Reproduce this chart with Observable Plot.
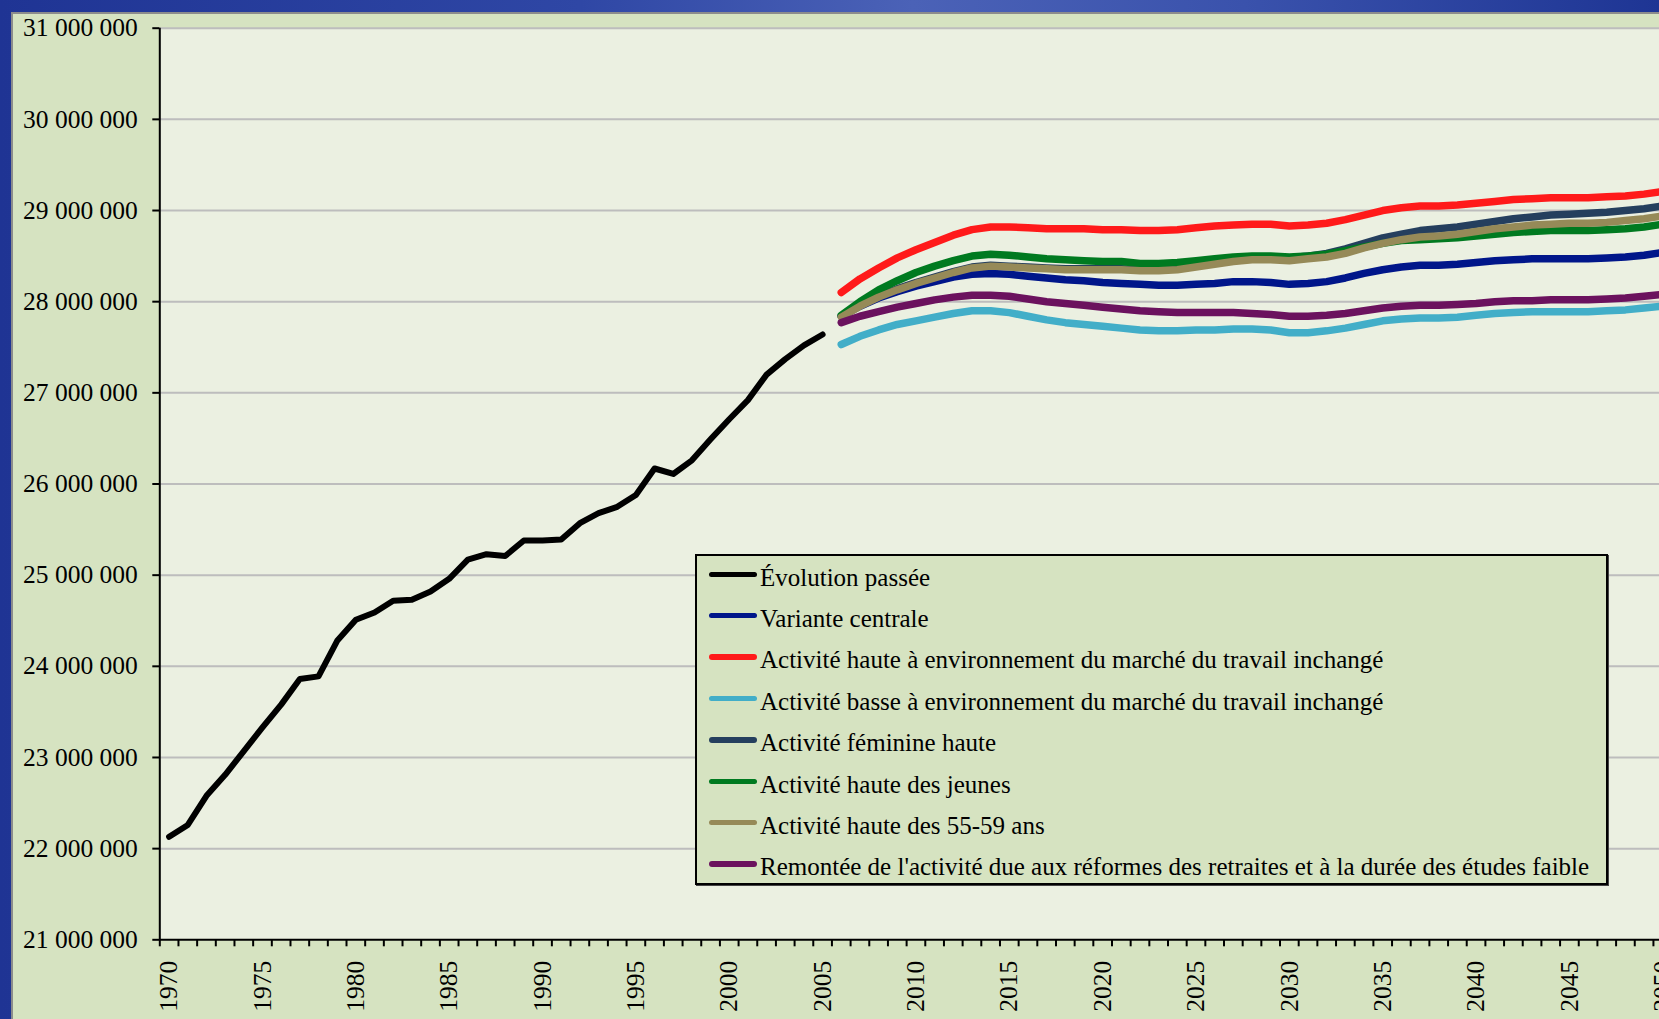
<!DOCTYPE html>
<html>
<head>
<meta charset="utf-8">
<script src="https://cdn.jsdelivr.net/npm/d3@7"></script>
<script src="https://cdn.jsdelivr.net/npm/@observablehq/plot@0.6"></script>
<style>
  html, body { margin: 0; padding: 0; }
  body {
    width: 1659px; height: 1019px; overflow: hidden; position: relative;
    background: linear-gradient(90deg, #1f3494 0%, #2f47a5 35%, #4b62b7 55%, #3a52ac 75%, #1e3594 100%);
    font-family: "Liberation Serif", "Times New Roman", serif;
  }
  #frame {
    position: absolute; left: 11px; top: 12px; width: 1700px; height: 1100px;
    background: #d6e3c1; border-left: 2px solid #8c8c8c; border-top: 2px solid #8c8c8c;
  }
  #chart { position: absolute; left: 0; top: 0; }
  #legend {
    position: absolute; left: 695px; top: 554px; width: 913px; height: 331px;
    box-sizing: border-box; border: 2px solid #000; background: #d6e3c1;
    box-shadow: 1px 1px 0 #444;
  }
  .sw { position: absolute; left: 12px; width: 48px; height: 5.5px; border-radius: 3px; }
  .lt { position: absolute; left: 63px; font-size: 25px; line-height: 25px; white-space: nowrap; color: #000; }
</style>
</head>
<body>
<div id="frame"></div>
<div id="chart"></div>
<div id="legend"></div>
<script>
// ---- Data (millions of active persons) ----
const histYears = d3.range(1970, 2006);
const histValues = [22.13, 22.26, 22.58, 22.81, 23.07, 23.33, 23.58, 23.86, 23.89, 24.28,
  24.51, 24.59, 24.72, 24.73, 24.82, 24.96, 25.17, 25.23, 25.21, 25.38,
  25.38, 25.39, 25.57, 25.68, 25.75, 25.88, 26.17, 26.11, 26.26, 26.49,
  26.71, 26.92, 27.20, 27.37, 27.52, 27.64];

const projYears = d3.range(2006, 2051);
const centrale = [27.84, 27.95, 28.04, 28.11, 28.17, 28.22, 28.27, 28.30, 28.31, 28.30,
  28.28, 28.26, 28.24, 28.23, 28.21, 28.20, 28.19, 28.18, 28.18, 28.19,
  28.20, 28.22, 28.22, 28.21, 28.19, 28.20, 28.22, 28.26, 28.31, 28.35,
  28.38, 28.40, 28.40, 28.41, 28.43, 28.45, 28.46, 28.47, 28.47, 28.47,
  28.47, 28.48, 28.49, 28.51, 28.54];
const hauteInchange = [28.10, 28.25, 28.37, 28.48, 28.57, 28.65, 28.73, 28.79, 28.82, 28.82,
  28.81, 28.80, 28.80, 28.80, 28.79, 28.79, 28.78, 28.78, 28.79, 28.81,
  28.83, 28.84, 28.85, 28.85, 28.83, 28.84, 28.86, 28.90, 28.95, 29.00,
  29.03, 29.05, 29.05, 29.06, 29.08, 29.10, 29.12, 29.13, 29.14, 29.14,
  29.14, 29.15, 29.16, 29.18, 29.21];
const basseInchange = [27.53, 27.62, 27.69, 27.75, 27.79, 27.83, 27.87, 27.90, 27.90, 27.88,
  27.84, 27.80, 27.77, 27.75, 27.73, 27.71, 27.69, 27.68, 27.68, 27.69,
  27.69, 27.70, 27.70, 27.69, 27.66, 27.66, 27.68, 27.71, 27.75, 27.79,
  27.81, 27.82, 27.82, 27.83, 27.85, 27.87, 27.88, 27.89, 27.89, 27.89,
  27.89, 27.90, 27.91, 27.93, 27.95];
const feminineHaute = [27.84, 27.96, 28.06, 28.14, 28.21, 28.27, 28.33, 28.38, 28.40, 28.39,
  28.38, 28.37, 28.36, 28.36, 28.36, 28.36, 28.35, 28.35, 28.36, 28.39,
  28.42, 28.45, 28.47, 28.48, 28.48, 28.50, 28.53, 28.58, 28.64, 28.70,
  28.74, 28.78, 28.80, 28.82, 28.85, 28.88, 28.91, 28.93, 28.95, 28.96,
  28.97, 28.98, 29.00, 29.02, 29.05];
const jeunes = [27.85, 28.00, 28.13, 28.23, 28.32, 28.39, 28.45, 28.50, 28.52, 28.51,
  28.49, 28.47, 28.46, 28.45, 28.44, 28.44, 28.42, 28.42, 28.43, 28.45,
  28.47, 28.49, 28.50, 28.50, 28.49, 28.50, 28.52, 28.56, 28.60, 28.64,
  28.67, 28.68, 28.69, 28.70, 28.72, 28.74, 28.76, 28.77, 28.78, 28.78,
  28.78, 28.79, 28.80, 28.82, 28.85];
const seniors5559 = [27.83, 27.95, 28.05, 28.13, 28.20, 28.26, 28.32, 28.37, 28.39, 28.38,
  28.37, 28.36, 28.35, 28.35, 28.35, 28.35, 28.34, 28.34, 28.35, 28.38,
  28.41, 28.44, 28.46, 28.46, 28.45, 28.47, 28.49, 28.53, 28.59, 28.64,
  28.68, 28.71, 28.72, 28.74, 28.77, 28.80, 28.82, 28.84, 28.85, 28.86,
  28.86, 28.87, 28.89, 28.91, 28.94];
const remontee = [27.77, 27.84, 27.89, 27.94, 27.98, 28.02, 28.05, 28.07, 28.07, 28.06,
  28.03, 28.00, 27.98, 27.96, 27.94, 27.92, 27.90, 27.89, 27.88, 27.88,
  27.88, 27.88, 27.87, 27.86, 27.84, 27.84, 27.85, 27.87, 27.90, 27.93,
  27.95, 27.96, 27.96, 27.97, 27.98, 28.00, 28.01, 28.01, 28.02, 28.02,
  28.02, 28.03, 28.04, 28.06, 28.08];

const seriesNames = [
  "Évolution passée",
  "Variante centrale",
  "Activité haute à environnement du marché du travail inchangé",
  "Activité basse à environnement du marché du travail inchangé",
  "Activité féminine haute",
  "Activité haute des jeunes",
  "Activité haute des 55-59 ans",
  "Remontée de l'activité due aux réformes des retraites et à la durée des études faible"
];
const seriesColors = ["#000000", "#00168a", "#ff1a1a", "#42aec8", "#253f5e", "#007a20", "#968a58", "#6b125e"];
const seriesValues = [histValues, centrale, hauteInchange, basseInchange, feminineHaute, jeunes, seniors5559, remontee];

const yTicks = [21e6, 22e6, 23e6, 24e6, 25e6, 26e6, 27e6, 28e6, 29e6, 30e6, 31e6];
const xLabelYears = [1970, 1975, 1980, 1985, 1990, 1995, 2000, 2005, 2010, 2015, 2020, 2025, 2030, 2035, 2040, 2045, 2050];
const allYears = d3.range(1970, 2051);

// ---- Build table ----
const rows = [];
seriesValues.forEach((vals, i) => {
  const yrs = i === 0 ? histYears : projYears;
  vals.forEach((v, j) => rows.push({series: seriesNames[i], year: yrs[j], value: v * 1e6}));
});

const fmt = d => d3.format(",")(d).replace(/,/g, " ");
const boundaries = allYears.map(y => y - 0.5).concat([2050.5]);

const lineMarks = seriesNames.map((name, i) =>
  Plot.line(rows.filter(r => r.series === name), {
    x: "year", y: "value", stroke: seriesColors[i],
    strokeWidth: i === 0 ? 6 : 7.5, strokeLinecap: "round", strokeLinejoin: "round"
  })
);

const FONT = "'Liberation Serif', 'Times New Roman', serif";
const chart = Plot.plot({
  width: 1659,
  height: 1019,
  marginLeft: 159.3,
  marginRight: 0,
  marginTop: 27.7,
  marginBottom: 79.7,
  style: {background: "transparent", fontFamily: FONT, fontSize: "25.5px", color: "#000", overflow: "hidden"},
  x: {type: "linear", domain: [1969.5, 2050.5], range: [159.3, 1671.6]},
  y: {domain: [21e6, 31e6], range: [939.3, 27.7]},
  marks: [
    Plot.frame({fill: "#ebf0e1", stroke: null}),
    Plot.gridY(yTicks.slice(1), {stroke: "#bdbdbd", strokeOpacity: 1, strokeWidth: 2}),
    ...lineMarks,
    Plot.ruleX([1969.5], {stroke: "#000", strokeWidth: 2}),
    Plot.ruleY([21e6], {stroke: "#000", strokeWidth: 2}),
    Plot.axisY(yTicks, {tickSize: 7, tickPadding: 15, tickFormat: fmt, fontSize: 25.5, fontFamily: FONT, strokeWidth: 2, label: null}),
    Plot.axisX(boundaries, {tickSize: 7, tickFormat: () => "", strokeWidth: 2, label: null}),
    Plot.axisX(xLabelYears, {tickSize: 0, tickPadding: 21, tickRotate: -90, tickFormat: d => String(d), fontSize: 25.5, fontFamily: FONT, label: null})
  ]
});
document.getElementById("chart").appendChild(chart);

// ---- Legend ----
const legend = document.getElementById("legend");
seriesNames.forEach((name, i) => {
  const c = 18.3 + i * 41.4;
  const sw = document.createElement("div");
  sw.className = "sw";
  sw.style.top = (c - 2.75) + "px";
  sw.style.background = seriesColors[i];
  legend.appendChild(sw);
  const t = document.createElement("div");
  t.className = "lt";
  t.style.top = (c - 9.7) + "px";
  t.textContent = name;
  legend.appendChild(t);
});
</script>
</body>
</html>
